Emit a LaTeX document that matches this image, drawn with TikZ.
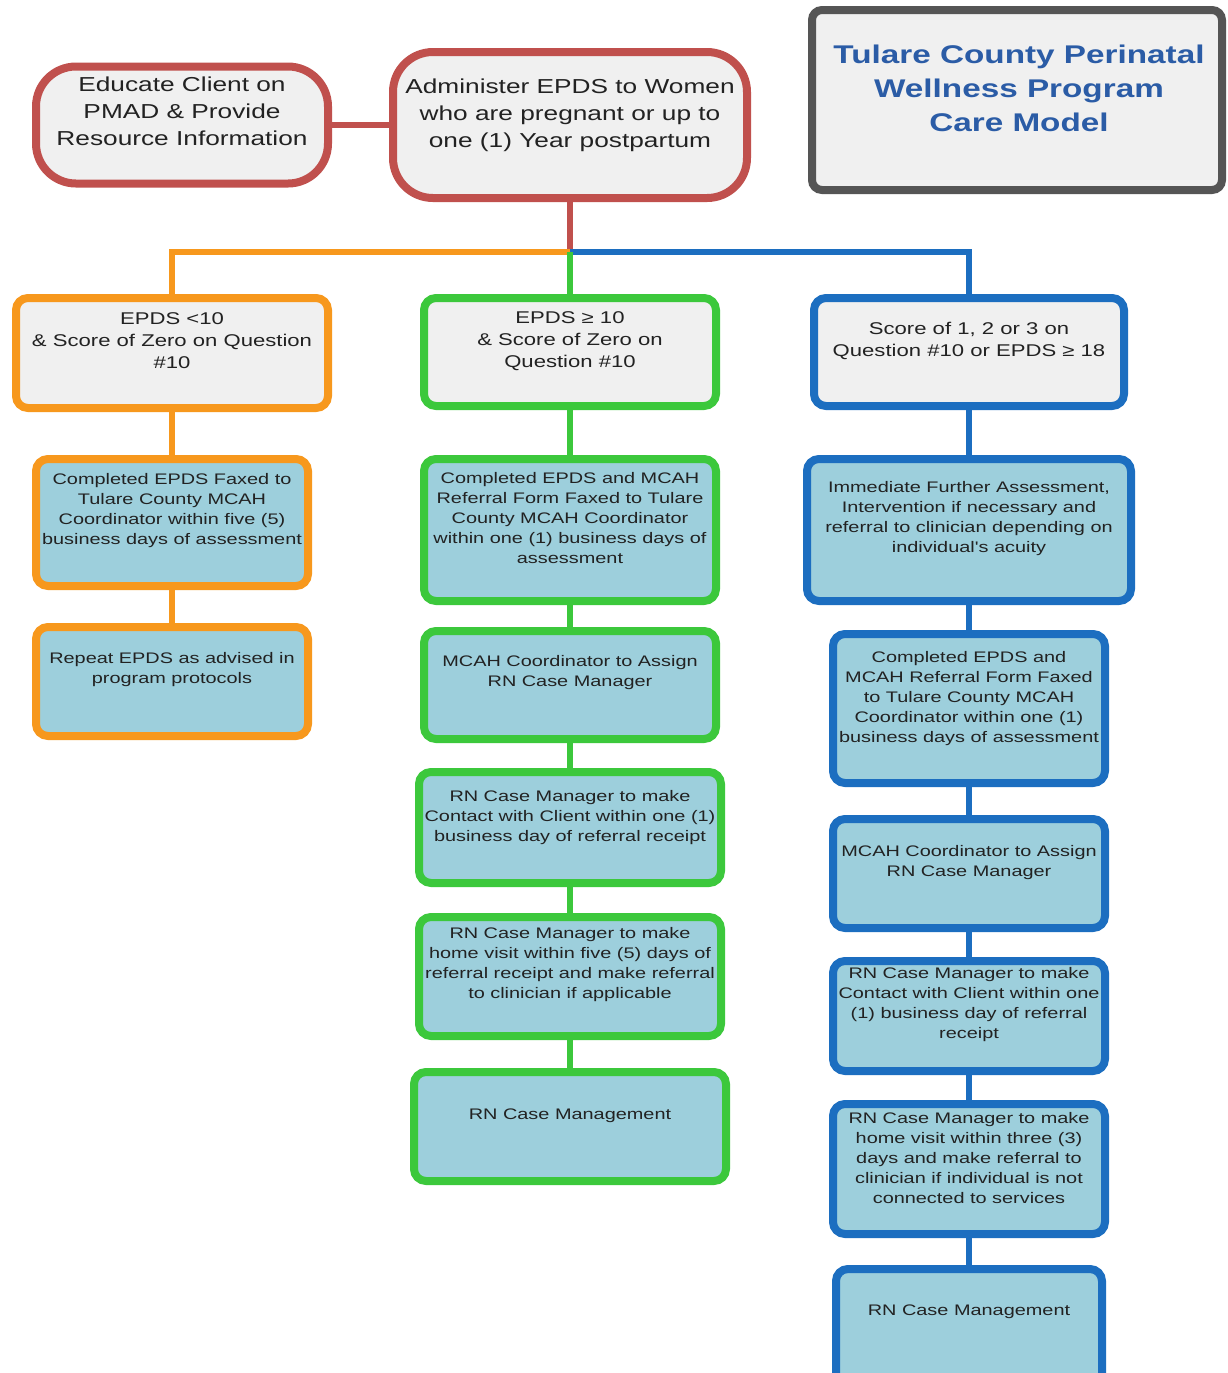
\documentclass[tikz,border=0pt]{standalone}
\usepackage{fontspec}
\setmainfont{Liberation Sans}
\newfontfamily\wideSans{Liberation Sans}[FakeStretch=1.3]
\usetikzlibrary{backgrounds}
\pgfdeclarelayer{bottom}
\pgfsetlayers{bottom,background,main}
\definecolor{redc}{HTML}{C0504D}
\definecolor{orc}{HTML}{F7981D}
\definecolor{grc}{HTML}{3CC83C}
\definecolor{blc}{HTML}{1C6EC0}
\definecolor{grayc}{HTML}{555555}
\definecolor{lightfill}{HTML}{F0F0F0}
\definecolor{actfill}{HTML}{9DCFDC}
\definecolor{titlec}{HTML}{2B5CA6}
\definecolor{txtc}{HTML}{222222}
\begin{document}
\begin{tikzpicture}[x=0.5pt,y=-0.5pt,
  box/.style={draw, line width=4pt, rounded corners=6pt, inner sep=0pt},
  crit/.style={box, fill=lightfill},
  act/.style={box, fill=actfill},
  topbox/.style={draw=redc, line width=4pt, rounded corners=20pt, fill=lightfill, inner sep=0pt},
  toptxt/.style={align=center, text=txtc, font=\wideSans\fontsize{10.1}{13.5}\selectfont, inner sep=0pt},
  titletxt/.style={align=center, text=titlec, font=\wideSans\bfseries\fontsize{12.8}{17}\selectfont, inner sep=0pt},
  crittxt/.style={align=center, text=txtc, font=\wideSans\fontsize{8.5}{11}\selectfont, inner sep=0pt},
  acttxt/.style={align=center, text=txtc, font=\wideSans\fontsize{7.65}{10}\selectfont, inner sep=0pt},
  conn/.style={line width=3pt},
]
\begin{pgfonlayer}{bottom}
\fill[white] (0,0) rectangle (1228,1373);
\end{pgfonlayer}
\useasboundingbox (0,0) rectangle (1228,1373);
\clip (0,0) rectangle (1228,1373);

% top row
\node[topbox, minimum width=146pt, minimum height=58.5pt] (edu) at (182,125) {};
\node[toptxt] (edut) at ([yshift=7pt]edu.center) {Educate Client on\\PMAD \& Provide\\Resource Information};
\node[topbox, minimum width=177pt, minimum height=73pt] (adm) at (570,125) {};
\node[toptxt] (admt) at ([yshift=5pt]adm.center) {Administer EPDS to Women\\who are pregnant or up to\\one (1) Year postpartum};
\node[draw=grayc, line width=4pt, rounded corners=5pt, fill=lightfill, minimum width=205pt, minimum height=90pt, inner sep=0pt] (title) at (1017,100) {};
\node[titletxt] (titlet) at ([xshift=1pt,yshift=6pt]title.center) {Tulare County Perinatal\\Wellness Program\\Care Model};

% orange column
\node[crit, draw=orc, minimum width=156pt, minimum height=55pt] (o1) at (172,353) {};
\node[crittxt] (o1t) at ([yshift=6pt]o1.center) {EPDS <10\\\& Score of Zero on Question\\\#10};
\node[act, draw=orc, minimum width=136pt, minimum height=63.5pt] (o2) at (172,522.5) {};
\node[acttxt] (o2t) at ([yshift=5.75pt]o2.center) {Completed EPDS Faxed to\\Tulare County MCAH\\Coordinator within five (5)\\business days of assessment};
\node[act, draw=orc, minimum width=136pt, minimum height=54.5pt] (o3) at (172,681.5) {};
\node[acttxt] (o3t) at ([yshift=5.75pt]o3.center) {Repeat EPDS as advised in\\program protocols};

% green column
\node[crit, draw=grc, minimum width=146pt, minimum height=54pt] (g1) at (570,352) {};
\node[crittxt] (g1t) at ([yshift=5.5pt]g1.center) {EPDS \char"2265\ 10\\\& Score of Zero on\\Question \#10};
\node[act, draw=grc, minimum width=146pt, minimum height=71pt] (g2) at (570,530) {};
\node[acttxt] (g2t) at ([yshift=6pt]g2.center) {Completed EPDS and MCAH\\Referral Form Faxed to Tulare\\County MCAH Coordinator\\within one (1) business days of\\assessment};
\node[act, draw=grc, minimum width=146pt, minimum height=54pt] (g3) at (570,685) {};
\node[acttxt] (g3t) at ([yshift=6pt]g3.center) {MCAH Coordinator to Assign\\RN Case Manager};
\node[act, draw=grc, minimum width=151pt, minimum height=55.5pt] (g4) at (570,827.5) {};
\node[acttxt] (g4t) at ([yshift=4.75pt]g4.center) {RN Case Manager to make\\Contact with Client within one (1)\\business day of referral receipt};
\node[act, draw=grc, minimum width=151pt, minimum height=59.5pt] (g5) at (570,976.5) {};
\node[acttxt] (g5t) at ([yshift=5.75pt]g5.center) {RN Case Manager to make\\home visit within five (5) days of\\referral receipt and make referral\\to clinician if applicable};
\node[act, draw=grc, minimum width=156pt, minimum height=54.5pt] (g6) at (570,1126.5) {};
\node[acttxt] (g6t) at ([yshift=5.25pt]g6.center) {RN Case Management};

% blue column
\node[crit, draw=blc, minimum width=155pt, minimum height=54pt] (b1) at (969,352) {};
\node[crittxt] (b1t) at ([yshift=5.5pt]b1.center) {Score of 1, 2 or 3 on\\Question \#10 or EPDS \char"2265\ 18};
\node[act, draw=blc, minimum width=162pt, minimum height=71pt] (b2) at (969,530) {};
\node[acttxt] (b2t) at ([yshift=5.5pt]b2.center) {Immediate Further Assessment,\\Intervention if necessary and\\referral to clinician depending on\\individual's acuity};
\node[act, draw=blc, minimum width=136pt, minimum height=74.5pt] (b3) at (969,708.5) {};
\node[acttxt] (b3t) at ([yshift=4.75pt]b3.center) {Completed EPDS and\\MCAH Referral Form Faxed\\to Tulare County MCAH\\Coordinator within one (1)\\business days of assessment};
\node[act, draw=blc, minimum width=136pt, minimum height=54.5pt] (b4) at (969,873.5) {};
\node[acttxt] (b4t) at ([yshift=5.25pt]b4.center) {MCAH Coordinator to Assign\\RN Case Manager};
\node[act, draw=blc, minimum width=136pt, minimum height=55pt] (b5) at (969,1016) {};
\node[acttxt] (b5t) at ([yshift=5.5pt]b5.center) {RN Case Manager to make\\Contact with Client within one\\(1) business day of referral\\receipt};
\node[act, draw=blc, minimum width=136pt, minimum height=65pt] (b6) at (969,1169) {};
\node[acttxt] (b6t) at ([yshift=5.5pt]b6.center) {RN Case Manager to make\\home visit within three (3)\\days and make referral to\\clinician if individual is not\\connected to services};
\node[act, draw=blc, minimum width=133pt, minimum height=60pt] (b7) at (969,1329) {};
\node[acttxt] (b7t) at (969,1312) {RN Case Management};

\begin{pgfonlayer}{background}
  \coordinate (split) at (570,252);
  \draw[conn, redc] (edu.east) -- (adm.west);
  \draw[conn, redc] (adm.south) -- (split);
  \draw[conn, orc] (split) -| (o1.north);
  \draw[conn, blc] (split) -| (b1.north);
  \draw[conn, grc] (split) -- (g1.north);
  \draw[conn, orc] (o1.south) -- (o2.north);
  \draw[conn, orc] (o2.south) -- (o3.north);
  \draw[conn, grc] (g1.south) -- (g2.north);
  \draw[conn, grc] (g2.south) -- (g3.north);
  \draw[conn, grc] (g3.south) -- (g4.north);
  \draw[conn, grc] (g4.south) -- (g5.north);
  \draw[conn, grc] (g5.south) -- (g6.north);
  \draw[conn, blc] (b1.south) -- (b2.north);
  \draw[conn, blc] (b2.south) -- (b3.north);
  \draw[conn, blc] (b3.south) -- (b4.north);
  \draw[conn, blc] (b4.south) -- (b5.north);
  \draw[conn, blc] (b5.south) -- (b6.north);
  \draw[conn, blc] (b6.south) -- (b7.north);
\end{pgfonlayer}
\end{tikzpicture}
\end{document}
